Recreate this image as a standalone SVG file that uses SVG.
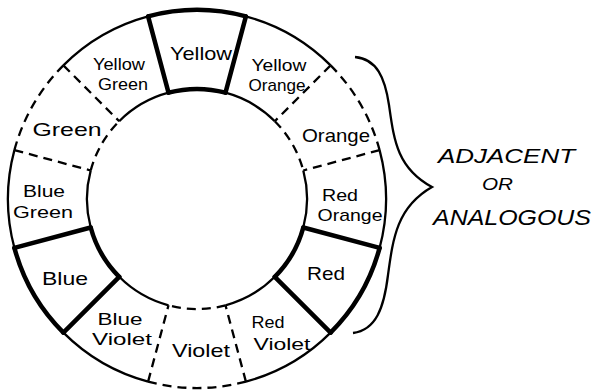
<svg xmlns="http://www.w3.org/2000/svg" width="595" height="390" viewBox="0 0 595 390">
<style>
  .thick{fill:none;stroke:#000;stroke-width:4.5;stroke-linecap:round}
  .thin{fill:none;stroke:#000;stroke-width:2.3}
  .dash{fill:none;stroke:#000;stroke-width:2.3;stroke-dasharray:9 6}
  .lbl{font-family:"Liberation Sans",Arial,sans-serif;font-size:19px;fill:#000;text-anchor:middle}
  .lbl2{font-family:"Liberation Sans",Arial,sans-serif;font-size:17px;fill:#000;text-anchor:middle}
  .side{font-family:"Liberation Sans",Arial,sans-serif;font-style:italic;fill:#000}
</style>
<rect width="595" height="390" fill="#fff"/>
<g id="connectors">
  <path class="thin" d="M245.9,16.4 A189,189 0 0 1 330.6,65.4 M225.5,92.7 A110,110 0 0 1 274.8,121.2"/>
  <path class="thin" d="M379.6,150.1 A189,189 0 0 1 379.6,247.9 M303.3,170.5 A110,110 0 0 1 303.3,227.5"/>
  <path class="thin" d="M330.6,332.6 A189,189 0 0 1 245.9,381.6 M274.8,276.8 A110,110 0 0 1 225.5,305.3"/>
  <path class="thin" d="M148.1,381.6 A189,189 0 0 1 63.4,332.6 M168.5,305.3 A110,110 0 0 1 119.2,276.8"/>
  <path class="thin" d="M14.4,247.9 A189,189 0 0 1 14.4,150.1 M90.7,227.5 A110,110 0 0 1 90.7,170.5"/>
  <path class="thin" d="M63.4,65.4 A189,189 0 0 1 148.1,16.4 M119.2,121.2 A110,110 0 0 1 168.5,92.7"/>
  <path class="dash" d="M330.6,65.4 A189,189 0 0 1 379.6,150.1 M274.8,121.2 A110,110 0 0 1 303.3,170.5"/>
  <path class="dash" d="M245.9,381.6 A189,189 0 0 1 148.1,381.6 M225.5,305.3 A110,110 0 0 1 168.5,305.3"/>
  <path class="dash" d="M14.4,150.1 A189,189 0 0 1 63.4,65.4 M90.7,170.5 A110,110 0 0 1 119.2,121.2"/>
  <path class="dash" d="M330.6,65.4 L274.8,121.2 M379.6,150.1 L303.3,170.5 M245.9,381.6 L225.5,305.3 M148.1,381.6 L168.5,305.3 M14.4,150.1 L90.7,170.5 M63.4,65.4 L119.2,121.2"/>
  <path class="thick" d="M148.1,16.4 A189,189 0 0 1 245.9,16.4 M168.5,92.7 A110,110 0 0 1 225.5,92.7"/>
  <path class="thick" d="M379.6,247.9 A189,189 0 0 1 330.6,332.6 M303.3,227.5 A110,110 0 0 1 274.8,276.8"/>
  <path class="thick" d="M63.4,332.6 A189,189 0 0 1 14.4,247.9 M119.2,276.8 A110,110 0 0 1 90.7,227.5"/>
  <path class="thick" d="M148.1,16.4 L168.5,92.7 M245.9,16.4 L225.5,92.7 M379.6,247.9 L303.3,227.5 M330.6,332.6 L274.8,276.8 M63.4,332.6 L119.2,276.8 M14.4,247.9 L90.7,227.5"/>
  <path class="thin" d="M355,57 C377,59 385,78 389,105 C394,140 397,168 432,187 C397,207 393,238 388,275 C384,308 376,330 353,333"/>
</g>
<g id="yellow"><text class="lbl" x="201" y="60" textLength="62" lengthAdjust="spacingAndGlyphs">Yellow</text></g>
<g id="yellow-green"><text class="lbl2" x="119" y="70" textLength="52" lengthAdjust="spacingAndGlyphs">Yellow</text><text class="lbl2" x="123" y="90" textLength="50" lengthAdjust="spacingAndGlyphs">Green</text></g>
<g id="yellow-orange"><text class="lbl2" x="279" y="71" textLength="55" lengthAdjust="spacingAndGlyphs">Yellow</text><text class="lbl2" x="277" y="91" textLength="57" lengthAdjust="spacingAndGlyphs">Orange</text></g>
<g id="green"><text class="lbl" x="67" y="136" textLength="69" lengthAdjust="spacingAndGlyphs">Green</text></g>
<g id="blue-green"><text class="lbl2" x="44" y="197" textLength="42" lengthAdjust="spacingAndGlyphs">Blue</text><text class="lbl2" x="43" y="218" textLength="60" lengthAdjust="spacingAndGlyphs">Green</text></g>
<g id="blue"><text class="lbl" x="65" y="285" textLength="46" lengthAdjust="spacingAndGlyphs">Blue</text></g>
<g id="blue-violet"><text class="lbl2" x="120" y="325" textLength="45" lengthAdjust="spacingAndGlyphs">Blue</text><text class="lbl2" x="122" y="345" textLength="60" lengthAdjust="spacingAndGlyphs">Violet</text></g>
<g id="violet"><text class="lbl" x="201" y="357" textLength="58" lengthAdjust="spacingAndGlyphs">Violet</text></g>
<g id="red-violet"><text class="lbl2" x="268" y="328" textLength="33" lengthAdjust="spacingAndGlyphs">Red</text><text class="lbl2" x="282" y="350" textLength="57" lengthAdjust="spacingAndGlyphs">Violet</text></g>
<g id="red"><text class="lbl" x="326" y="280" textLength="38" lengthAdjust="spacingAndGlyphs">Red</text></g>
<g id="red-orange"><text class="lbl2" x="340" y="201" textLength="36" lengthAdjust="spacingAndGlyphs">Red</text><text class="lbl2" x="350" y="221" textLength="65" lengthAdjust="spacingAndGlyphs">Orange</text></g>
<g id="orange"><text class="lbl" x="336" y="142" textLength="68" lengthAdjust="spacingAndGlyphs">Orange</text></g>
<g id="caption">
  <text class="side" x="438" y="163" font-size="20" textLength="137" lengthAdjust="spacingAndGlyphs">ADJACENT</text>
  <text class="side" x="482" y="190" font-size="17" textLength="31" lengthAdjust="spacingAndGlyphs">OR</text>
  <text class="side" x="433" y="225" font-size="22" textLength="158" lengthAdjust="spacingAndGlyphs">ANALOGOUS</text>
</g>
</svg>
